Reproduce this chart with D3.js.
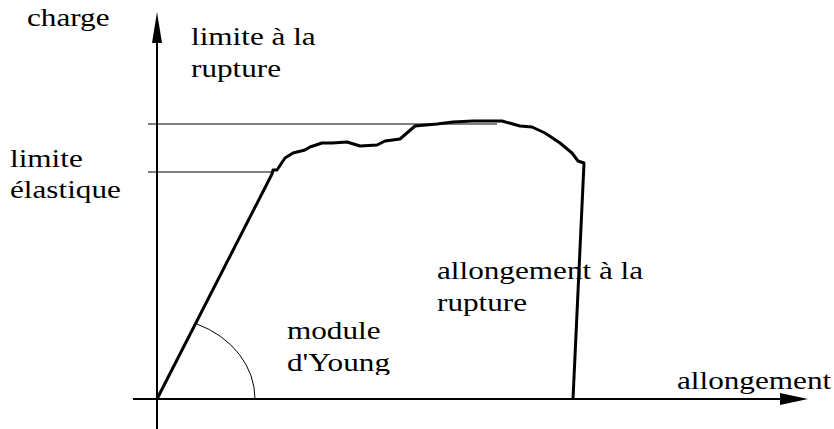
<!DOCTYPE html>
<html>
<head>
<meta charset="utf-8">
<script src="https://cdn.jsdelivr.net/npm/d3@7"></script>
<style>
  body { margin: 0; background: #fff; }
</style>
</head>
<body>
<div id="chart"></div>
<script>
// courbe charge / allongement
const allongement = [0, 115, 116, 120, 128, 136, 148, 153, 165, 175, 190, 203, 220, 228, 243, 258, 280, 296, 316, 345, 363, 375, 388, 403, 415, 421, 427, 416];
const charge      = [0, 225, 229, 229, 241, 246, 249, 252, 256, 256, 257, 253, 254, 258, 260, 273, 275, 277, 278, 278, 273, 272, 266, 256, 246, 238, 236, 0];

const limiteElastique = 227;
const limiteRupture = 275;
const finRepereRupture = 340;

const svgWidth = 834, svgHeight = 429;
// le texte de la figure d'origine est un peu etire en largeur
const etirement = 1.2;

var svg = d3.select("#chart")
    .append("svg")
    .attr("width", svgWidth)
    .attr("height", svgHeight);

// axes : origine en (157, 399)
const x = d3.scaleLinear().domain([0, 650]).range([157, 807]);
const y = d3.scaleLinear().domain([0, 390]).range([399, 9]);

// axe des allongements
svg.append("line")
    .attr("x1", x(-24)).attr("x2", x(625))
    .attr("y1", y(0)).attr("y2", y(0))
    .attr("stroke", "black").attr("stroke-width", 2);
svg.append("path")
    .attr("d", `M${x(623)},${y(0) - 6} L${x(651)},${y(0)} L${x(623)},${y(0) + 6} Z`)
    .attr("fill", "black");

// axe des charges
svg.append("line")
    .attr("x1", x(0)).attr("x2", x(0))
    .attr("y1", y(-40)).attr("y2", y(360))
    .attr("stroke", "black").attr("stroke-width", 2);
svg.append("path")
    .attr("d", `M${x(0) - 5},${y(356)} L${x(0)},${y(387)} L${x(0) + 5},${y(356)} Z`)
    .attr("fill", "black");

// reperes des limites
svg.append("line")
    .attr("x1", x(-9)).attr("x2", x(allongement[1]))
    .attr("y1", y(limiteElastique)).attr("y2", y(limiteElastique))
    .attr("stroke", "black").attr("stroke-width", 1);
svg.append("line")
    .attr("x1", x(-9)).attr("x2", x(finRepereRupture))
    .attr("y1", y(limiteRupture)).attr("y2", y(limiteRupture))
    .attr("stroke", "black").attr("stroke-width", 1);

// arc du module d'Young
svg.append("path")
    .attr("d", `M${x(40)},${y(75)} A${x(98) - x(0)},${y(0) - y(82)} 0 0 1 ${x(98)},${y(0)}`)
    .attr("fill", "none")
    .attr("stroke", "black")
    .attr("stroke-width", 1);

// courbe
const points = allongement.map((d, i) => [d, charge[i]]);
const line = d3.line().x(d => x(d[0])).y(d => y(d[1]));
svg.append("path")
    .datum(points)
    .attr("d", line)
    .attr("fill", "none")
    .attr("stroke", "black")
    .attr("stroke-width", 3)
    .attr("stroke-linejoin", "round");

// textes, une ligne par element
function add_label(lines, px, py, dy) {
    const g = svg.append("g");
    lines.forEach((s, i) => {
        g.append("text")
            .attr("transform", `translate(${px}, ${py + i * dy}) scale(${etirement}, 1)`)
            .attr("font-family", "Liberation Serif")
            .attr("font-size", 26)
            .attr("fill", "black")
            .text(s);
    });
    return g;
}
add_label(["charge"], 27, 26, 0);
add_label(["limite à la", "rupture"], 191, 45, 32);
add_label(["limite", "élastique"], 10, 167, 31);
add_label(["allongement à la", "rupture"], 437, 279, 32);
add_label(["allongement"], 677, 389, 0);

svg.append("clipPath").attr("id", "clipYoung")
    .append("rect").attr("x", 0).attr("y", 0).attr("width", svgWidth).attr("height", 375);
add_label(["module", "d'Young"], 287, 339, 32)
    .attr("clip-path", "url(#clipYoung)");
</script>
</body>
</html>
